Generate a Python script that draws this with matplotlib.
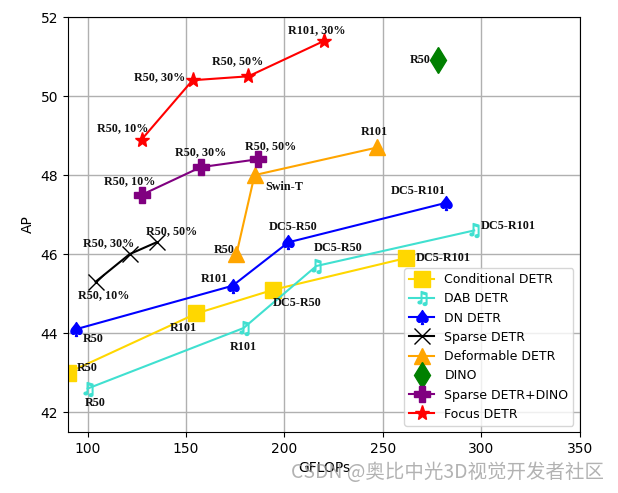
import matplotlib.pyplot as plt

# GFLOPs / AP
cond_x = [90, 155.3, 194.4, 261.7]
cond_y = [43.0, 44.5, 45.1, 45.9]
cond_lab = ['R50', 'R101', 'DC5-R50', 'DC5-R101']

dab_x = [100, 179.2, 216.2, 296.4]
dab_y = [42.6, 44.13, 45.7, 46.6]
dab_lab = ['R50', 'R101', 'DC5-R50', 'DC5-R101']

dn_x = [94, 173.6, 202, 282.2]
dn_y = [44.1, 45.2, 46.3, 47.3]
dn_lab = ['R50', 'R101', 'DC5-R50', 'DC5-R101']

sparse_x = [104, 121.3, 135]
sparse_y = [45.3, 46.0, 46.3]
sparse_lab = ['R50, 10%', 'R50, 30%', 'R50, 50%']

deform_x = [175.6, 184.8, 247.2]
deform_y = [46.0, 48.0, 48.7]
deform_lab = ['R50', 'Swin-T', 'R101']

dino_x = [278.2]
dino_y = [50.9]
dino_lab = ['R50']

sdino_x = [127.4, 157.4, 186.3]
sdino_y = [47.5, 48.2, 48.4]
sdino_lab = ['R50, 10%', 'R50, 30%', 'R50, 50%']

focus_x = [127.4, 153.3, 181.7, 220.3]
focus_y = [48.9, 50.4, 50.5, 51.4]
focus_lab = ['R50, 10%', 'R50, 30%', 'R50, 50%', 'R101, 30%']


def label_points(ax, xs, ys, labels, offsets):
    # offsets are in pixels, convert to points (100 dpi)
    for x, y, t, (dx, dy, ha) in zip(xs, ys, labels, offsets):
        ax.annotate(t, (x, y), xytext=(dx * 0.72, dy * 0.72), textcoords='offset points',
                    ha=ha, va='center', fontsize=8.7, fontweight='bold',
                    family='Liberation Serif', color='#111111')


fig = plt.figure(figsize=(6.18, 4.93), dpi=100)
ax = fig.add_axes([0.110, 0.1237, 0.828, 0.8418])

ax.plot(cond_x, cond_y, color='#FFD700', marker='s', markersize=11.5, lw=1.5, label='Conditional DETR')
ax.plot(dab_x, dab_y, color='#40E0D0', marker='$♫$', markersize=10, lw=1.5, label='DAB DETR')
ax.plot(dn_x, dn_y, color='blue', marker='$♠$', markersize=10, lw=1.5, label='DN DETR')
ax.plot(sparse_x, sparse_y, color='black', marker='x', markersize=11, lw=1.5, label='Sparse DETR')
ax.plot(deform_x, deform_y, color='orange', marker='^', markersize=11.5, lw=1.5, label='Deformable DETR')
ax.plot(dino_x, dino_y, color='green', marker='d', markersize=13, lw=1.5, ls='None', label='DINO')
ax.plot(sdino_x, sdino_y, color='purple', marker='P', markersize=11, lw=1.5, label='Sparse DETR+DINO')
ax.plot(focus_x, focus_y, color='red', marker='*', markersize=11, lw=1.5, label='Focus DETR')

label_points(ax, cond_x, cond_y, cond_lab,
             [(19, 5, 'center'), (-13, -15, 'center'), (24, -13, 'center'), (10, 0, 'left')])
label_points(ax, dab_x, dab_y, dab_lab,
             [(8, -14, 'center'), (0, -19, 'center'), (22, 18, 'center'), (7, 4, 'left')])
label_points(ax, dn_x, dn_y, dn_lab,
             [(17, -10, 'center'), (-18, 7, 'center'), (5, 15, 'center'), (-28, 12, 'center')])
label_points(ax, sparse_x, sparse_y, sparse_lab,
             [(8, -13, 'center'), (-21, 11, 'center'), (15, 11, 'center')])
label_points(ax, deform_x, deform_y, deform_lab,
             [(-2, 4, 'right'), (30, -12, 'center'), (-3, 15, 'center')])
label_points(ax, dino_x, dino_y, dino_lab, [(-8, 0, 'right')])
label_points(ax, sdino_x, sdino_y, sdino_lab,
             [(-12, 14, 'center'), (0, 15, 'center'), (13, 13, 'center')])
label_points(ax, focus_x, focus_y, focus_lab,
             [(-19, 11, 'center'), (-7, 3, 'right'), (-11, 15, 'center'), (-8, 11, 'center')])

ax.set_xlim(90, 350)
ax.set_ylim(41.5, 52)
ax.set_xticks([100, 150, 200, 250, 300, 350])
ax.set_yticks([42, 44, 46, 48, 50, 52])
ax.tick_params(labelsize=10)
ax.set_xlabel('GFLOPs', fontsize=10)
ax.set_ylabel('AP', fontsize=10)
ax.grid(True, color='#b0b0b0', lw=1)
ax.set_axisbelow(True)
ax.legend(loc='lower right', fontsize=9)

# CSDN watermark as in the source image
fig.text(0.978, 0.042, 'CSDN @奥比中光3D视觉开发者社区', ha='right', va='center',
         fontsize=14, color='#999999', alpha=0.75,
         family=['Noto Sans CJK SC', 'DejaVu Sans'])

fig.savefig('out.png', dpi=100)
